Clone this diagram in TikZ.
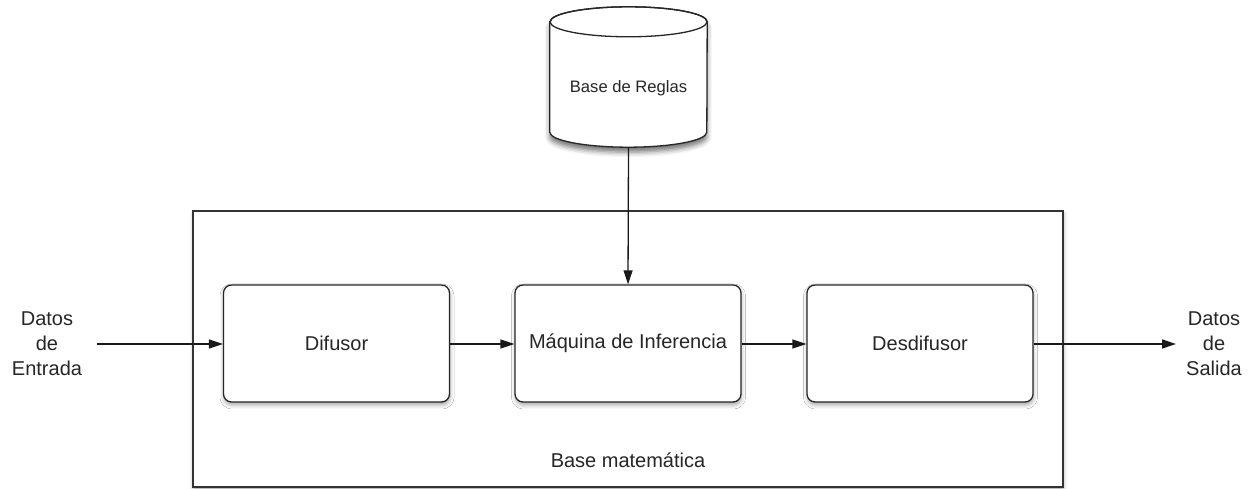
\documentclass[tikz,border=0pt]{standalone}
\usepackage{fontspec}
\setmainfont{Liberation Sans}
\usetikzlibrary{arrows.meta,shadows.blur}
\tikzset{
  soft/.style={blur shadow={shadow xshift=0.5pt,shadow yshift=-3pt,shadow blur radius=4pt,shadow opacity=35}},
  deepsoft/.style={blur shadow={shadow xshift=0pt,shadow yshift=-5pt,shadow blur radius=5pt,shadow opacity=55}},
  blockbox/.style={draw=black!85,line width=1.3pt,rounded corners=8pt,fill=white,soft,
    minimum width=226pt,minimum height=117pt,inner sep=0pt,
    font=\fontsize{20}{24}\selectfont,text=black!85},
  frame/.style={draw=black!80,line width=1.7pt,fill=white,soft},
  lbl/.style={font=\fontsize{20}{25}\selectfont,text=black!85,align=center,inner sep=0pt},
  link/.style={line width=1.3pt,draw=black!90,-{Triangle[length=14pt,width=9pt]}}
}
\begin{document}
\begin{tikzpicture}[x=1pt,y=1pt]
\useasboundingbox (0,0) rectangle (1252,489);

% outer frame
\node[frame,minimum width=870pt,minimum height=276pt,inner sep=0pt] (marco) at (628,140) {};
\node[lbl] (basemat) at (628,29) {Base matemática};

% rule base drawn as a cylinder around its label node
\node[minimum width=157pt,minimum height=140pt,inner sep=0pt] (reglas) at (628.5,412) {};
\path[draw=black!85,line width=1.3pt,fill=white,deepsoft]
  ([yshift=-15pt]reglas.north west) -- ([yshift=15pt]reglas.south west)
  arc[start angle=180,end angle=360,x radius=78.5pt,y radius=15pt]
  -- ([yshift=-15pt]reglas.north east)
  arc[start angle=0,end angle=180,x radius=78.5pt,y radius=15pt] -- cycle;
\draw[black!85,line width=1.3pt] ([yshift=-15pt]reglas.north)
  ellipse[x radius=78.5pt,y radius=15pt];
\node[lbl,font=\fontsize{16.6}{20}\selectfont] at (628.5,401) {Base de Reglas};

% processing blocks
\node[blockbox] (dif) at (336.5,145.5) {Difusor};
\node[blockbox] (maq) at (628,145.5) {Máquina de Inferencia};
\node[blockbox] (des) at (920,145.5) {Desdifusor};

% input and output labels
\node[lbl] (entrada) at (47,145) {Datos\\de\\Entrada};
\node[lbl] (salida) at (1214,145) {Datos\\de\\Salida};
\coordinate (inicio) at (97,145);
\coordinate (fin) at (1176,145);

% connectors
\draw[link] (inicio) -- (dif.west |- inicio);
\draw[link] (dif.east |- inicio) -- (maq.west |- inicio);
\draw[link] (maq.east |- inicio) -- (des.west |- inicio);
\draw[link] (des.east |- fin) -- (fin);
\draw[link] (reglas.south) -- (maq.north);
\end{tikzpicture}
\end{document}
